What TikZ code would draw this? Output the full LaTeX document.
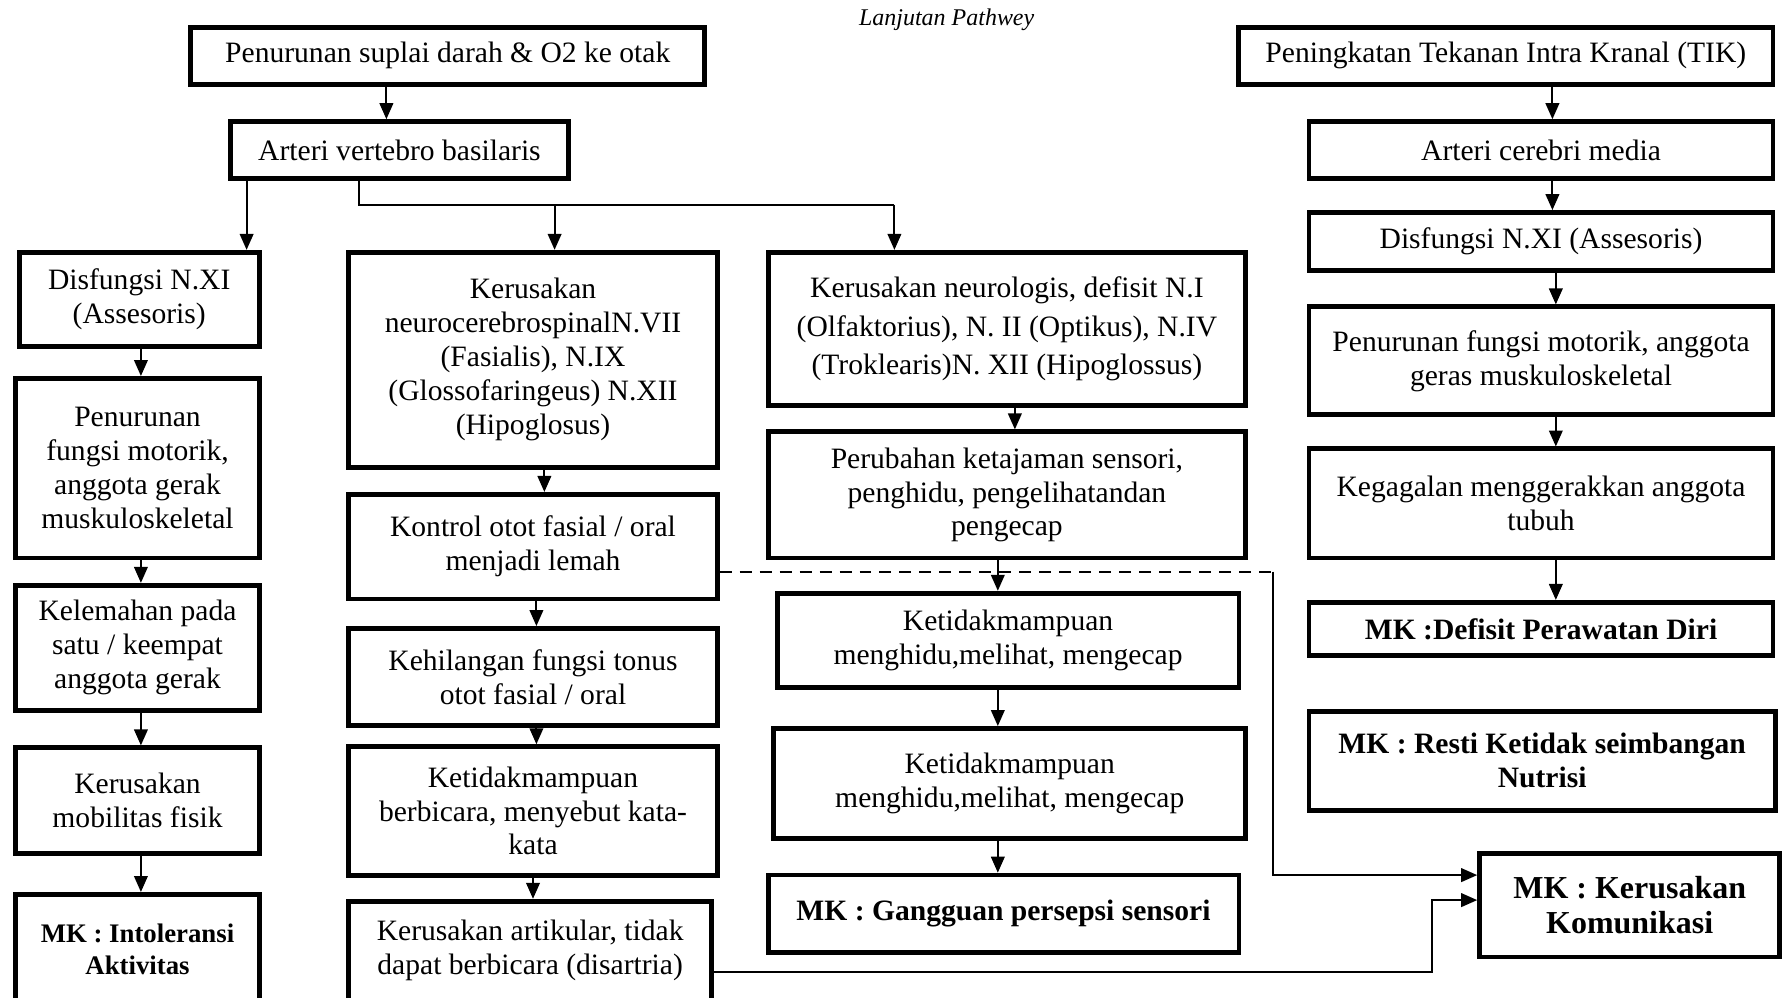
\documentclass[tikz,border=0pt]{standalone}
\usepackage{fontspec}
\setmainfont{Liberation Serif}
\usetikzlibrary{arrows.meta}
\tikzset{
  box/.style={draw, line width=1.2pt, align=center, inner sep=1pt, font=\fontsize{7.4}{8.5}\selectfont},
  mkbox/.style={box, font=\fontsize{7.4}{8.5}\selectfont\bfseries},
  arr/.style={-{Triangle[length=4pt,width=3.4pt]}, line width=0.5pt},
}
\begin{document}
\begin{tikzpicture}[x=0.01cm,y=-0.01cm]
    \useasboundingbox (0,0) rectangle (1568,878); % page size
    \node[font=\fontsize{6}{7}\selectfont\itshape] (judul) at (833,17) {Lanjutan Pathwey};

    % top left
    \node[box, minimum width=4.52cm, minimum height=0.5cm] (suplai) at (394,49) {Penurunan suplai darah \& O2 ke otak};
    \node[box, minimum width=2.97cm, minimum height=0.5cm] (vertebro) at (351.5,132) {Arteri vertebro basilaris};

    % column 1
    \node[box, minimum width=2.11cm, minimum height=0.83cm] (nxi) at (122.5,263.5) {Disfungsi N.XI\\(Assesoris)};
    \node[box, minimum width=2.14cm, minimum height=1.58cm] (motorik) at (121,412) {Penurunan\\fungsi motorik,\\anggota gerak\\muskuloskeletal};
    \node[box, minimum width=2.14cm, minimum height=1.10cm] (lemah) at (121,570) {Kelemahan pada\\satu / keempat\\anggota gerak};
    \node[box, minimum width=2.14cm, minimum height=0.93cm] (mobilitas) at (121,704.5) {Kerusakan\\mobilitas fisik};
    \node[mkbox, font=\fontsize{6.7}{8}\selectfont\bfseries, minimum width=2.14cm, minimum height=0.96cm] (intol) at (121,835) {MK : Intoleransi\\Aktivitas};

    % column 2
    \node[box, minimum width=3.24cm, minimum height=1.89cm] (saraf) at (469,316.5) {Kerusakan\\neurocerebrospinalN.VII\\(Fasialis), N.IX\\(Glossofaringeus) N.XII\\(Hipoglosus)};
    \node[box, minimum width=3.24cm, minimum height=0.92cm] (kontrol) at (469,481) {Kontrol otot fasial / oral\\menjadi lemah};
    \node[box, minimum width=3.24cm, minimum height=0.85cm] (tonus) at (469,595.5) {Kehilangan fungsi tonus\\otot fasial / oral};
    \node[box, minimum width=3.24cm, minimum height=1.13cm] (bicara) at (469,713.5) {Ketidakmampuan\\berbicara, menyebut kata-\\kata};
    \node[box, minimum width=3.19cm, minimum height=0.87cm] (disartria) at (466.5,836.5) {Kerusakan artikular, tidak\\dapat berbicara (disartria)};

    % column 3
    \node[box, font=\fontsize{7.4}{9.6}\selectfont, minimum width=4.20cm, minimum height=1.35cm] (neuro) at (886,289.5) {Kerusakan neurologis, defisit N.I\\(Olfaktorius), N. II (Optikus), N.IV\\(Troklearis)N. XII (Hipoglossus)};
    \node[box, minimum width=4.20cm, minimum height=1.11cm] (tajam) at (886,435.5) {Perubahan ketajaman sensori,\\penghidu, pengelihatandan\\pengecap};
    \node[box, minimum width=4.06cm, minimum height=0.83cm] (hidu) at (887,563.5) {Ketidakmampuan\\menghidu,melihat, mengecap};
    \node[box, minimum width=4.15cm, minimum height=0.97cm] (hidub) at (888.5,689.5) {Ketidakmampuan\\menghidu,melihat, mengecap};
    \node[mkbox, minimum width=4.14cm, minimum height=0.68cm] (persepsi) at (883,804) {MK : Gangguan persepsi sensori};

    % right column
    \node[box, minimum width=4.70cm, minimum height=0.5cm] (tik) at (1325,49) {Peningkatan Tekanan Intra Kranal (TIK)};
    \node[box, minimum width=4.08cm, minimum height=0.5cm] (media) at (1356,132) {Arteri cerebri media};
    \node[box, minimum width=4.08cm, minimum height=0.51cm] (nxib) at (1356,212.5) {Disfungsi N.XI (Assesoris)};
    \node[box, minimum width=4.08cm, minimum height=0.95cm] (geras) at (1356,317.5) {Penurunan fungsi motorik, anggota\\geras muskuloskeletal};
    \node[box, minimum width=4.08cm, minimum height=0.96cm] (gagal) at (1356,443) {Kegagalan menggerakkan anggota\\tubuh};
    \node[mkbox, minimum width=4.08cm, minimum height=0.47cm] (diri) at (1356,553.5) {MK :Defisit Perawatan Diri};
    \node[mkbox, minimum width=4.10cm, minimum height=0.87cm] (nutrisi) at (1357,669.5) {MK : Resti Ketidak seimbangan\\Nutrisi};
    \node[mkbox, font=\fontsize{8}{8.9}\selectfont\bfseries, minimum width=2.64cm, minimum height=0.91cm] (komunikasi) at (1434,796.5) {MK : Kerusakan\\Komunikasi};

    % branches
    \draw[arr] (340,0 |- suplai.south) -- (340,0 |- vertebro.north);
    \draw[arr] (217,0 |- vertebro.south) -- (217,0 |- nxi.north);
    \coordinate (cabang) at (316,180);
    \coordinate (ketiga) at (787,180);
    \draw[line width=0.5pt] (316,0 |- vertebro.south) -- (cabang) -- (ketiga);
    \draw[arr] (488,0 |- cabang) -- (488,0 |- saraf.north);
    \draw[arr] (ketiga) -- (787,0 |- neuro.north);

    % vertical chains
    \foreach \x/\a/\b in {124/nxi/motorik, 124/motorik/lemah, 124/lemah/mobilitas, 124/mobilitas/intol,
                          479/saraf/kontrol, 472/kontrol/tonus, 472/tonus/bicara, 469/bicara/disartria,
                          893/neuro/tajam, 878/tajam/hidu, 878/hidu/hidub, 878/hidub/persepsi,
                          1366/tik/media, 1366/media/nxib, 1369/nxib/geras, 1369/geras/gagal, 1369/gagal/diri}{
      \draw[arr] (\x,0 |- \a.south) -- (\x,0 |- \b.north);
    }

    % to MK Kerusakan Komunikasi
    \coordinate (sudut) at (1120,503);
    \coordinate (sudutb) at (1120,770);
    \draw[dashed, dash pattern=on 3pt off 2pt, line width=0.5pt] (kontrol.east |- sudut) -- (sudut);
    \draw[arr] (sudut) -- (sudutb) -- (komunikasi.west |- sudutb);
    \coordinate (belok) at (1260,855);
    \coordinate (belokb) at (1260,792);
    \draw[arr] (disartria.east |- belok) -- (belok) -- (belokb) -- (komunikasi.west |- belokb);
\end{tikzpicture}
\end{document}
